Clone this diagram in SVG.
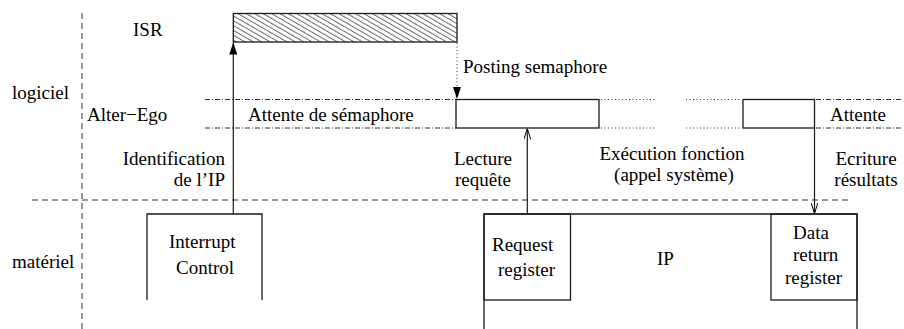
<svg xmlns="http://www.w3.org/2000/svg" width="904" height="329" viewBox="0 0 904 329">
<defs>
<style>
text{font-family:"Liberation Serif","Times New Roman",serif;font-size:19px;fill:#000}
.box{fill:none;stroke:#1a1a1a;stroke-width:1.3}
.hatched{fill:url(#hatch);stroke:#1a1a1a;stroke-width:1.3}
.dash{fill:none;stroke:#333;stroke-width:1;stroke-dasharray:6 4}
.dashdot{fill:none;stroke:#333;stroke-width:1;stroke-dasharray:5 2 1 2}
.dot{fill:none;stroke:#333;stroke-width:1;stroke-dasharray:1 2.5}
.conn{fill:none;stroke:#1a1a1a;stroke-width:1.2}
.e{text-anchor:end}
.m{text-anchor:middle}
</style>
<pattern id="hatch" patternUnits="userSpaceOnUse" width="10" height="4.2" patternTransform="rotate(30)">
<line x1="0" y1="2" x2="10" y2="2" stroke="#333" stroke-width="0.8"/>
</pattern>
<marker id="fill" viewBox="0 0 12 8" refX="12" refY="4" markerWidth="12" markerHeight="8" markerUnits="userSpaceOnUse" orient="auto">
<path d="M0,0 L12,4 L0,8 Z" fill="#000"/>
</marker>
<marker id="open" viewBox="0 0 11 7" refX="11" refY="3.5" markerWidth="11" markerHeight="7" markerUnits="userSpaceOnUse" orient="auto">
<path d="M0,0 L11,3.5 L0,7" fill="none" stroke="#000" stroke-width="1"/>
</marker>
</defs>
<rect width="904" height="329" fill="#fff"/>

<g id="axes">
<line class="dash" x1="82" y1="13" x2="82" y2="329"/>
<line class="dash" x1="32" y1="200" x2="850" y2="200"/>
<text x="12" y="99">logiciel</text>
<text x="12" y="268">matériel</text>
</g>

<g id="isr">
<text x="133" y="36">ISR</text>
<rect class="hatched" x="233.3" y="13.5" width="223.7" height="28.5"/>
</g>

<g id="alter-ego">
<text x="87" y="121">Alter−Ego</text>
<line class="dashdot" x1="205" y1="99.5" x2="456" y2="99.5"/>
<line class="dashdot" x1="205" y1="128" x2="456" y2="128"/>
<text x="248" y="121">Attente de sémaphore</text>
<rect class="box" x="456" y="99.5" width="143" height="28.5"/>
<line class="dot" x1="601" y1="99.5" x2="655" y2="99.5"/>
<line class="dot" x1="601" y1="128" x2="655" y2="128"/>
<line class="dot" x1="686" y1="99.5" x2="742" y2="99.5"/>
<line class="dot" x1="686" y1="128" x2="742" y2="128"/>
<rect class="box" x="743" y="99.5" width="71.5" height="28.5"/>
<line class="dashdot" x1="816" y1="99.5" x2="902" y2="99.5"/>
<line class="dashdot" x1="816" y1="128" x2="902" y2="128"/>
<text x="830" y="121">Attente</text>
</g>

<g id="interrupt-control">
<path class="box" d="M147,300 V214 H262 V300"/>
<text x="169" y="248">Interrupt</text>
<text x="176" y="274">Control</text>
</g>

<g id="ip">
<path class="box" d="M484,329 V214 H857 V329"/>
<text x="657" y="265">IP</text>
</g>

<g id="request-register">
<rect class="box" x="484" y="214" width="86.5" height="86"/>
<text x="492" y="251">Request</text>
<text x="498" y="276">register</text>
</g>

<g id="data-return-register">
<rect class="box" x="771" y="214" width="86" height="86"/>
<text x="793" y="239">Data</text>
<text x="793" y="261">return</text>
<text x="785" y="284">register</text>
</g>

<g id="connectors">
<line class="conn" x1="233.3" y1="214" x2="233.3" y2="42.5" marker-end="url(#fill)"/>
<line class="dot" x1="457" y1="43" x2="457" y2="99" marker-end="url(#fill)"/>
<line class="conn" x1="527.3" y1="214" x2="527.3" y2="128.5" marker-end="url(#open)"/>
<line class="conn" x1="814.5" y1="128" x2="814.5" y2="213.5" marker-end="url(#open)"/>
</g>

<g id="labels">
<text x="463" y="73">Posting semaphore</text>
<text class="e" x="225" y="165">Identification</text>
<text class="e" x="225" y="186">de l’IP</text>
<text class="m" x="483" y="165">Lecture</text>
<text class="m" x="483" y="186">requête</text>
<text class="m" x="672" y="160">Exécution fonction</text>
<text class="m" x="674" y="181">(appel système)</text>
<text class="m" x="866" y="165">Ecriture</text>
<text class="m" x="866" y="186">résultats</text>
</g>
</svg>
